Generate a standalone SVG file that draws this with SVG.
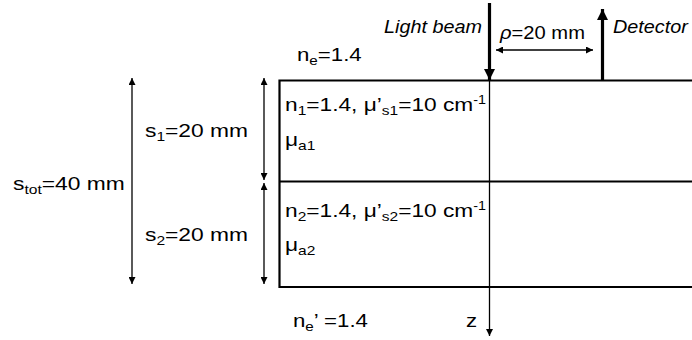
<svg xmlns="http://www.w3.org/2000/svg" width="692" height="340" viewBox="0 0 692 340">
<style>
text{font-family:"Liberation Sans",Arial,Helvetica,sans-serif;font-size:19px;fill:#000}
.it{font-style:italic;font-size:18px}
.sub{font-size:13px}
.sup{font-size:12px}
.thin{stroke:#000;stroke-width:1.3;fill:none}
.thick{stroke:#000;stroke-width:3.2;fill:none}
.slab{stroke:#000;stroke-width:2.2;fill:none}
</style>
<defs>
<marker id="ah" markerUnits="userSpaceOnUse" viewBox="0 0 10 10" refX="10" refY="5" markerWidth="8" markerHeight="7" orient="auto-start-reverse"><path d="M0,0L10,5L0,10z" fill="#000"/></marker>
<marker id="ahT" markerUnits="userSpaceOnUse" viewBox="0 0 10 10" refX="10" refY="5" markerWidth="13" markerHeight="11" orient="auto"><path d="M0,0L10,5L0,10z" fill="#000"/></marker>
</defs>
<g id="medium">
<path class="slab" d="M700,80.5H279.5V287H700"/>
<path class="slab" d="M279.5,181.5H700"/>
</g>
<g id="connectors">
<line id="light-beam" class="thick" x1="489.5" y1="3" x2="489.5" y2="80" marker-end="url(#ahT)"/>
<line id="detector-arrow" class="thick" x1="602.5" y1="80" x2="602.5" y2="9" marker-end="url(#ahT)"/>
<line id="rho" class="thin" x1="496" y1="50" x2="593" y2="50" marker-start="url(#ah)" marker-end="url(#ah)"/>
<line id="z-axis" class="thin" x1="489.5" y1="80" x2="489.5" y2="336" marker-end="url(#ah)"/>
<line id="s-tot" class="thin" x1="132" y1="78" x2="132" y2="284" marker-start="url(#ah)" marker-end="url(#ah)"/>
<line id="s1" class="thin" x1="264" y1="78" x2="264" y2="180" marker-start="url(#ah)" marker-end="url(#ah)"/>
<line id="s2" class="thin" x1="264" y1="183" x2="264" y2="284" marker-start="url(#ah)" marker-end="url(#ah)"/>
</g>
<g id="labels">
<text class="it" text-anchor="end" transform="translate(482,33) scale(1.1,1)">Light beam</text>
<text class="it" transform="translate(613,33) scale(1.1,1)">Detector</text>
<text class="it" transform="translate(500,39) scale(1.12,1)"><tspan>ρ</tspan><tspan style="font-style:normal">=20 mm</tspan></text>
<text transform="translate(297,61) scale(1.17,1)">n<tspan class="sub" dy="4">e</tspan><tspan dy="-4">=1.4</tspan></text>
<text transform="translate(13,190) scale(1.2,1)">s<tspan class="sub" dy="4">tot</tspan><tspan dy="-4">=40 mm</tspan></text>
<text transform="translate(145,137) scale(1.2,1)">s<tspan class="sub" dy="4">1</tspan><tspan dy="-4">=20 mm</tspan></text>
<text transform="translate(145,241) scale(1.2,1)">s<tspan class="sub" dy="4">2</tspan><tspan dy="-4">=20 mm</tspan></text>
<text transform="translate(285,111) scale(1.195,1)">n<tspan class="sub" dy="4">1</tspan><tspan dy="-4">=1.4, μ’</tspan><tspan class="sub" dy="4">s1</tspan><tspan dy="-4">=10 cm</tspan><tspan class="sup" dy="-7">-1</tspan></text>
<text transform="translate(285,146) scale(1.195,1)">μ<tspan class="sub" dy="4">a1</tspan></text>
<text transform="translate(285,217) scale(1.195,1)">n<tspan class="sub" dy="4">2</tspan><tspan dy="-4">=1.4, μ’</tspan><tspan class="sub" dy="4">s2</tspan><tspan dy="-4">=10 cm</tspan><tspan class="sup" dy="-7">-1</tspan></text>
<text transform="translate(285,251) scale(1.195,1)">μ<tspan class="sub" dy="4">a2</tspan></text>
<text transform="translate(293,327) scale(1.17,1)">n<tspan class="sub" dy="4">e</tspan><tspan dy="-4">’ =1.4</tspan></text>
<text transform="translate(466,327) scale(1.17,1)">z</text>
</g>
</svg>
